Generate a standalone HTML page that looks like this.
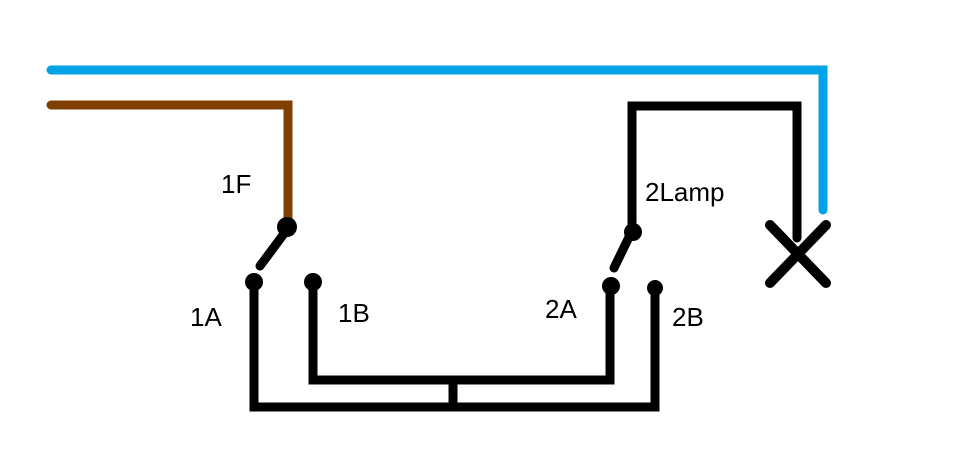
<!DOCTYPE html>
<html><head><style>html,body{margin:0;padding:0;background:#fff;}svg{display:block}</style></head>
<body>
<svg width="965" height="471" viewBox="0 0 965 471" xmlns="http://www.w3.org/2000/svg">
<g fill="none" stroke-linecap="round" stroke-linejoin="miter" stroke-width="9">
<polyline points="51,70 823,70 823,210" stroke="#00a2e8"/>
<polyline points="51,105 288,105 288,225" stroke="#7f3f00"/>
<g stroke="#000">
<line x1="286" y1="231" x2="260" y2="266"/>
<polyline points="254,282 254,407 655,407 655,288"/>
<polyline points="313,282 313,380 610,380 610,286"/>
<line x1="453" y1="380" x2="453" y2="407"/>
<line x1="630" y1="235" x2="614" y2="268"/>
<polyline points="632,232 632,106 797,106 797,238"/>
<line x1="770" y1="225" x2="826" y2="283" stroke-width="10"/>
<line x1="826" y1="225" x2="770" y2="283" stroke-width="10"/>
</g>
</g>
<g fill="#000">
<circle cx="287" cy="227" r="10"/>
<circle cx="254" cy="282" r="9"/>
<circle cx="313" cy="282" r="9"/>
<circle cx="633" cy="232" r="9"/>
<circle cx="611" cy="286" r="9"/>
<circle cx="655" cy="288" r="8"/>
</g>
<g font-family="Liberation Sans, sans-serif" font-size="26" fill="#000">
<text x="221" y="193">1F</text>
<text x="190" y="326">1A</text>
<text x="338" y="322">1B</text>
<text x="545" y="318">2A</text>
<text x="672" y="326">2B</text>
<text x="645" y="201">2Lamp</text>
</g>
</svg>
</body></html>
